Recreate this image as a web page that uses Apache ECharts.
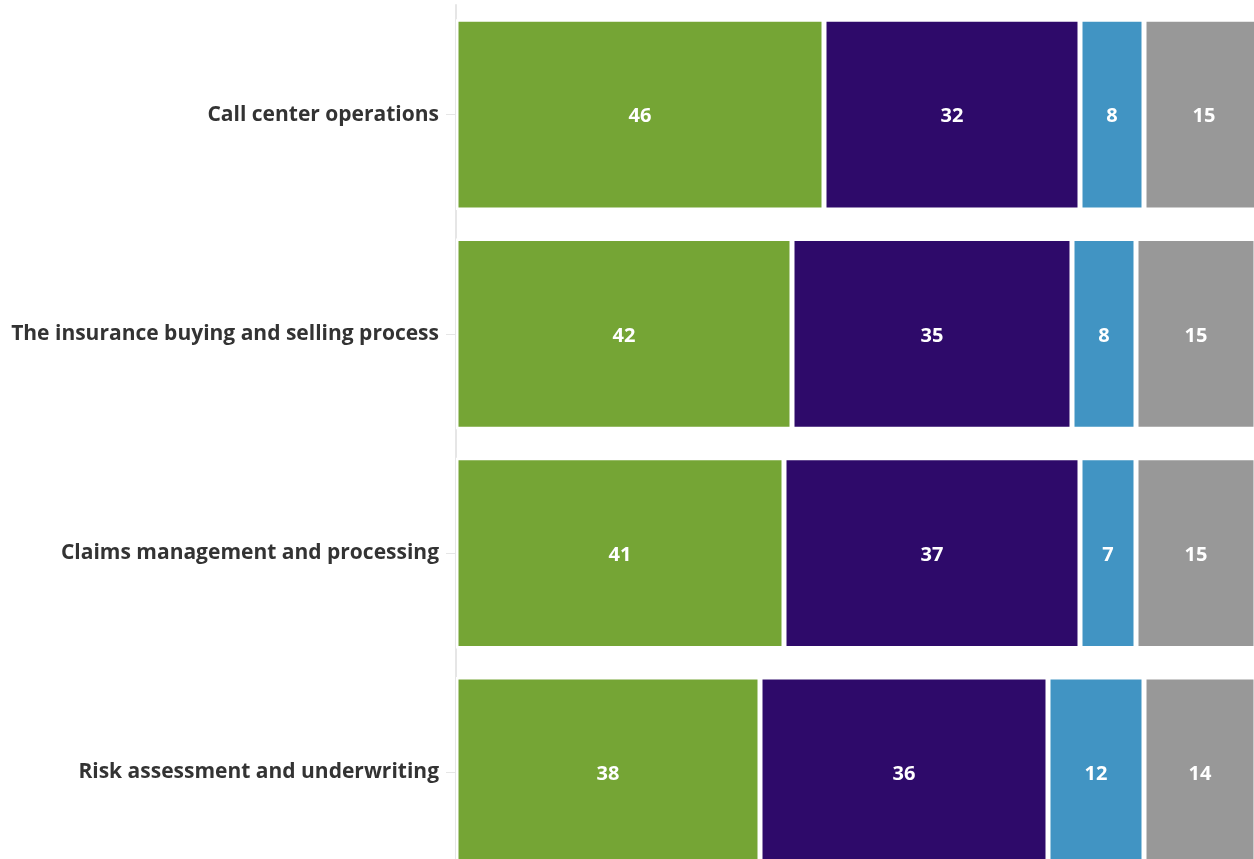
<!DOCTYPE html>
<html>
<head>
<meta charset="utf-8">
<script src="https://cdn.jsdelivr.net/npm/echarts@6/dist/echarts.min.js"></script>
<style>
  html, body { margin: 0; padding: 0; background: #ffffff; overflow: hidden; }
  #chart { width: 1270px; height: 900px; }
</style>
</head>
<body>
<div id="chart"></div>
<script>
// Survey areas (top to bottom)
const categories = [
  'Call center operations',
  'The insurance buying and selling process',
  'Claims management and processing',
  'Risk assessment and underwriting'
];

// Share of respondents per answer group (%)
const seriesA = [46, 42, 41, 38];
const seriesB = [32, 35, 37, 36];
const seriesC = [8, 8, 7, 12];
const seriesD = [15, 15, 15, 14];

const colors = ['#75a535', '#2e0a6a', '#4194c3', '#989898'];

const chart = echarts.init(document.getElementById('chart'), null, { renderer: 'canvas' });

function stackSeries(name, data, color) {
  return {
    name: name,
    type: 'bar',
    stack: 'total',
    data: data,
    barWidth: '87%',
    clip: false,
    itemStyle: { color: color, borderColor: '#ffffff', borderWidth: 2.5 },
    label: {
      show: true,
      position: 'inside',
      offset: [0, 2],
      color: '#ffffff',
      fontFamily: '"Open Sans", sans-serif',
      fontWeight: 'bold',
      fontSize: 20
    },
    emphasis: { disabled: true }
  };
}

chart.setOption({
  animation: false,
  backgroundColor: '#ffffff',
  grid: { left: 456, top: 5, width: 800, height: 877 },
  xAxis: {
    type: 'value',
    min: 0,
    max: 100,
    show: false
  },
  yAxis: {
    type: 'category',
    data: categories,
    inverse: true,
    axisLine: { show: true, lineStyle: { color: '#e6e6e6', width: 2 } },
    axisTick: { show: true, alignWithLabel: true, length: 10, lineStyle: { color: '#e6e6e6' } },
    axisLabel: {
      color: '#333333',
      fontFamily: '"Open Sans", sans-serif',
      fontWeight: 'bold',
      fontSize: 21,
      margin: 17,
      padding: [2, 0, 0, 0]
    }
  },
  series: [
    stackSeries('A', seriesA, colors[0]),
    stackSeries('B', seriesB, colors[1]),
    stackSeries('C', seriesC, colors[2]),
    stackSeries('D', seriesD, colors[3])
  ]
});
</script>
</body>
</html>
